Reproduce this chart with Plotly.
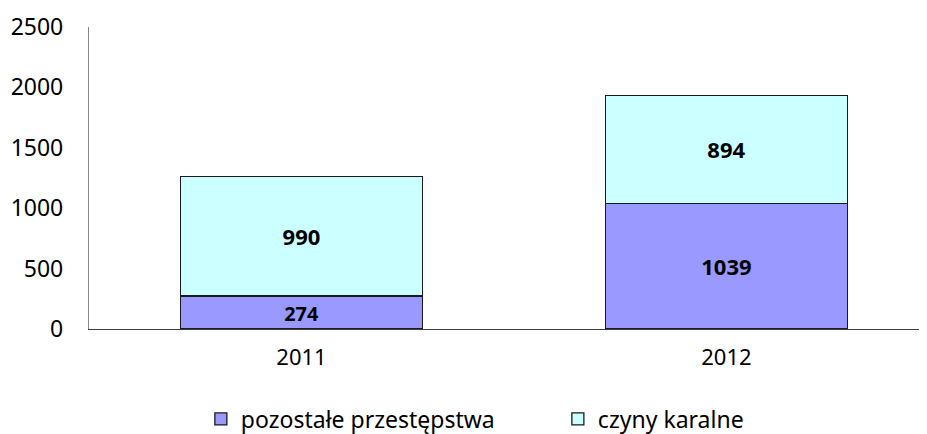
import plotly.graph_objects as go

years = ["2011", "2012"]
pozostale = [274, 1039]
czyny = [990, 894]
y_ticks = [0, 500, 1000, 1500, 2000, 2500]

FONT = "Noto Sans"

fig = go.Figure()
fig.add_trace(go.Bar(
    x=years, y=pozostale, name="pozostałe przestępstwa",
    marker=dict(color="#9999FF", line=dict(color="#1a1a1a", width=1.3)),
    text=pozostale, textposition="inside", insidetextanchor="middle",
    textfont=dict(family=FONT, size=22, color="black", weight="bold"),
))
fig.add_trace(go.Bar(
    x=years, y=czyny, name="czyny karalne",
    marker=dict(color="#CCFFFF", line=dict(color="#1a1a1a", width=1.3)),
    text=czyny, textposition="inside", insidetextanchor="middle",
    textfont=dict(family=FONT, size=22, color="black", weight="bold"),
))

# page body has an 8px margin, so the figure is sized/offset to fit the window
fig.update_layout(
    barmode="stack", bargap=0.43,
    width=919, height=426,
    margin=dict(l=81, r=0, t=19, b=105, autoexpand=False),
    plot_bgcolor="white", paper_bgcolor="white",
    font=dict(family=FONT, size=22, color="black"),
    showlegend=True,
    legend=dict(orientation="h", x=0.1335, xanchor="left", y=-0.298, yanchor="middle",
                traceorder="normal", font=dict(size=23), entrywidth=312,
                itemwidth=30),
    xaxis=dict(range=[-0.5, 1.472], showline=True, linecolor="#404040", linewidth=1.3,
               ticks="", tickfont=dict(size=22), showgrid=False, zeroline=False,
               automargin=False, ticklabelstandoff=8),
    yaxis=dict(range=[0, 2500], tickvals=y_ticks, showline=True, linecolor="#888888",
               linewidth=1.3, ticks="", showgrid=False, zeroline=False,
               tickfont=dict(size=23), ticklabelstandoff=20, automargin=False),
)

fig.write_html("out.html")
